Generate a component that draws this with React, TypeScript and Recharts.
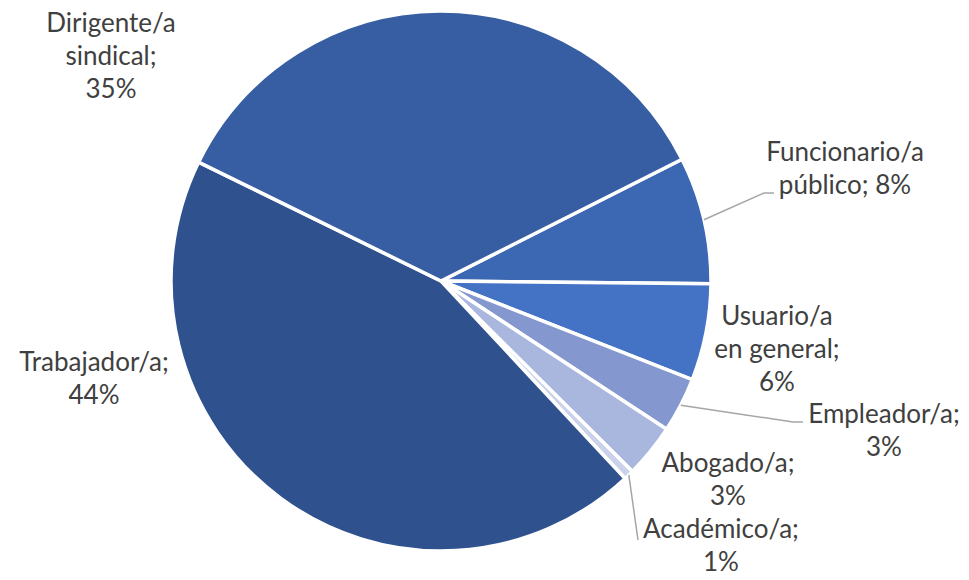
import React from 'react';
import { Cell, Pie, PieChart } from 'recharts';

// slice order, clockwise from the Dirigente/Funcionario boundary
const categories = [
  'Funcionario/a público',
  'Usuario/a en general',
  'Empleador/a',
  'Abogado/a',
  'Académico/a',
  'Trabajador/a',
  'Dirigente/a sindical',
];
const shares = [7.6, 5.8, 3.3, 3.2, 0.6, 44.2, 35.3];
const colors = ['#3b67b3', '#4472c4', '#8497cf', '#a9b6dd', '#cad2eb', '#2f528f', '#375ea2'];

const data = categories.map((name, i) => ({ name, value: shares[i] }));

// label placement, relative to pie centre (text centre x, first baseline y, wrap width)
const labelLayout = [
  { dx: 404, dy: -120, wrap: 13, leader: [[323, -88], [333, -88]] },
  { dx: 336, dy: 44, wrap: 11 },
  { dx: 443, dy: 142, wrap: 12, leader: [[352, 141], [362, 141]] },
  { dx: 287, dy: 191, wrap: 10 },
  { dx: 280, dy: 257, wrap: 12, leader: [[197, 259], [197, 259]] },
  { dx: -347, dy: 90, wrap: 13 },
  { dx: -330, dy: -249, wrap: 11 },
];

const LINE_H = 33;
const RAD = Math.PI / 180;

const wrapText = (text: string, max: number) => {
  const words = text.split(' ');
  const lines: string[] = [];
  let cur = '';
  words.forEach((w) => {
    if (!cur) cur = w;
    else if ((cur + ' ' + w).length <= max) cur += ' ' + w;
    else {
      lines.push(cur);
      cur = w;
    }
  });
  if (cur) lines.push(cur);
  return lines;
};

const renderLabel = (props: any) => {
  const { cx, cy, midAngle, outerRadius, percent, index, name } = props;
  const lay = labelLayout[index];
  const pct = Math.round(percent * 100);
  const lines = wrapText(`${name}; ${pct}%`, lay.wrap);
  const tx = cx + lay.dx;
  const ty = cy + lay.dy;
  let leader = null;
  if (lay.leader) {
    const sx = cx + outerRadius * Math.cos(-midAngle * RAD);
    const sy = cy + outerRadius * Math.sin(-midAngle * RAD);
    const pts = [[sx, sy], ...lay.leader.map(([x, y]) => [cx + x, cy + y])];
    leader = (
      <polyline
        points={pts.map((p) => p.join(',')).join(' ')}
        fill="none"
        stroke="#a6a6a6"
        strokeWidth={1.5}
      />
    );
  }
  return (
    <g key={`lbl-${index}`}>
      {leader}
      <text
        x={tx}
        y={ty}
        textAnchor="middle"
        fill="#404040"
        style={{ fontFamily: 'Lato, "Open Sans", sans-serif', fontSize: 26 }}
      >
        {lines.map((l, i) => (
          <tspan key={i} x={tx} y={ty + i * LINE_H}>
            {l}
          </tspan>
        ))}
      </text>
    </g>
  );
};

const App = () => {
  return (
    <div style={{ position: 'absolute', left: 0, top: 0, background: '#fff' }}>
      <PieChart width={969} height={580} margin={{ top: 0, right: 0, bottom: 0, left: 0 }}>
        <Pie
          data={data}
          dataKey="value"
          nameKey="name"
          cx={441}
          cy={281}
          outerRadius={270}
          startAngle={26.8}
          endAngle={-333.2}
          stroke="#ffffff"
          strokeWidth={3.5}
          label={renderLabel}
          labelLine={false}
          isAnimationActive={false}
        >
          {data.map((d, i) => (
            <Cell key={d.name} fill={colors[i]} />
          ))}
        </Pie>
      </PieChart>
    </div>
  );
};

export default App;
